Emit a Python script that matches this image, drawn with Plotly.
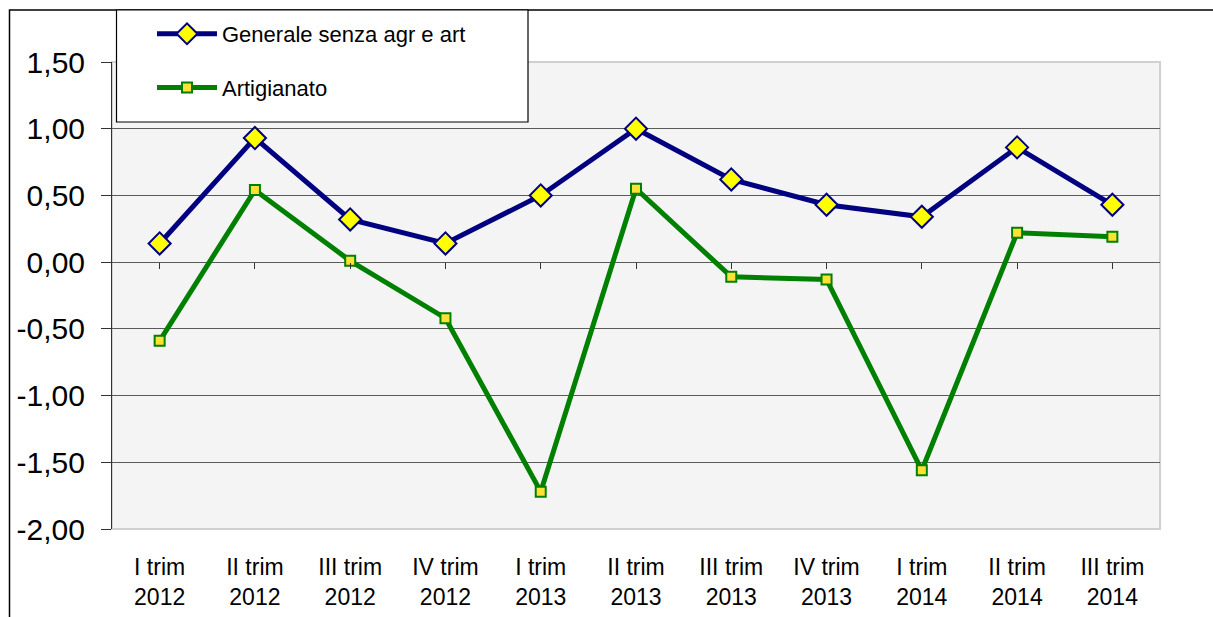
import plotly.graph_objects as go

categories = ["I trim<br>2012", "II trim<br>2012", "III trim<br>2012", "IV trim<br>2012",
              "I trim<br>2013", "II trim<br>2013", "III trim<br>2013", "IV trim<br>2013",
              "I trim<br>2014", "II trim<br>2014", "III trim<br>2014"]
generale = [0.14, 0.93, 0.32, 0.14, 0.50, 1.00, 0.62, 0.43, 0.34, 0.86, 0.43]
artigianato = [-0.59, 0.54, 0.01, -0.42, -1.72, 0.55, -0.11, -0.13, -1.56, 0.22, 0.19]
series_names = ["Generale senza agr e art", "Artigianato"]
y_ticks = [-2.0, -1.5, -1.0, -0.5, 0.0, 0.5, 1.0, 1.5]
y_ticktext = [f"{v:.2f}".replace(".", ",") for v in y_ticks]

W, H = 1213, 617
L, R, T, B = 112, 53, 62, 88
pw, ph = W - L - R, H - T - B

def px_x(p):
    return (p - L) / pw

def px_y(p):
    return 1 - (p - T) / ph

font = "Liberation Sans, Arial, sans-serif"

fig = go.Figure()
fig.add_trace(go.Scatter(
    x=categories, y=generale, name=series_names[0], mode="lines+markers",
    line=dict(color="#000080", width=5),
    marker=dict(symbol="diamond", size=17, color="#FFFF00", line=dict(color="#000080", width=2)),
    legendgroup="a",
))
fig.add_trace(go.Scatter(
    x=categories, y=artigianato, name=series_names[1], mode="lines+markers",
    line=dict(color="#008000", width=5),
    marker=dict(symbol="square", size=10, color="#FFE135", line=dict(color="#008000", width=2)),
    legendgroup="b",
))

fig.update_layout(
    width=W, height=H,
    margin=dict(l=L, r=R, t=T, b=B, pad=0, autoexpand=False),
    paper_bgcolor="white", plot_bgcolor="#F4F4F4",
    font=dict(family=font, color="black"),
    showlegend=True,
    legend=dict(
        x=px_x(152), y=px_y(13), xanchor="left", yanchor="top",
        bgcolor="rgba(0,0,0,0)", borderwidth=0,
        font=dict(size=22, family=font, color="black"),
        tracegroupgap=22, itemwidth=60,
    ),
    xaxis=dict(
        type="category", range=[-0.5, len(categories) - 0.5], automargin=False,
        showgrid=False, zeroline=False, showline=False, ticks="",
        tickfont=dict(size=23, family=font, color="black"),
        ticklabelstandoff=22,
    ),
    xaxis2=dict(
        range=[-0.5, len(categories) - 0.5], overlaying="x", anchor="free",
        position=(0 - y_ticks[0]) / (y_ticks[-1] - y_ticks[0]), automargin=False,
        tickvals=list(range(len(categories))), ticks="outside", ticklen=6,
        tickcolor="#333333", tickwidth=1, showticklabels=False,
        showgrid=False, zeroline=False, showline=False,
    ),
    yaxis=dict(
        range=[y_ticks[0], y_ticks[-1]], tickvals=y_ticks, ticktext=y_ticktext,
        automargin=False,
        showgrid=True, gridcolor="#5A5A5A", gridwidth=1,
        zeroline=False, showline=True, linecolor="#333333", linewidth=1,
        ticks="outside", ticklen=10, tickcolor="#333333",
        tickfont=dict(size=30, family=font, color="black"),
        ticklabelstandoff=10,
    ),
    shapes=[
        dict(type="rect", xref="paper", yref="paper", x0=0, x1=1, y0=0, y1=1,
             line=dict(color="#D0D0D0", width=2), layer="below"),
        dict(type="rect", xref="paper", yref="paper",
             x0=px_x(9.5), x1=px_x(1300), y0=px_y(10), y1=px_y(700),
             line=dict(color="black", width=1.5)),
        dict(type="rect", xref="paper", yref="paper",
             x0=px_x(116.5), x1=px_x(528), y0=px_y(10), y1=px_y(122),
             line=dict(color="black", width=1.2), fillcolor="white", layer="above"),
    ],
)
# invisible trace to activate the zero-line tick axis
fig.add_trace(go.Scatter(x=[0], y=[0], xaxis="x2", mode="markers",
                         marker=dict(opacity=0), showlegend=False, hoverinfo="skip"))

fig.write_html("out.html", config={"displayModeBar": False},
               post_script="document.body.style.margin='0';")
